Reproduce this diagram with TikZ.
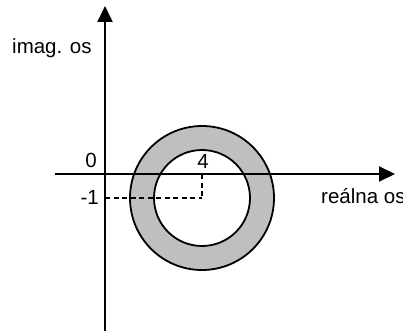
\documentclass[tikz,border=0pt]{standalone}
\usepackage{fontspec}
\setmainfont{Liberation Sans}
\usetikzlibrary{arrows.meta}
\begin{document}
\begin{tikzpicture}[x=1pt,y=-1pt,
  axis/.style={line width=2pt,-{Triangle[length=16pt,width=15pt]}},
  ring/.style={line width=1.8pt},
  guide/.style={line width=1.5pt,dash pattern=on 5pt off 3.5pt},
  lbl/.style={inner sep=0pt,font=\fontsize{20.5}{24}\selectfont}]
\useasboundingbox (0,0) rectangle (403,331);
\coordinate (c) at (202,198);
\coordinate (o) at (105,174);
% ring
\fill[gray!50!white,even odd rule] (c) circle[radius=72] (c) circle[radius=48];
\draw[ring] (c) circle[radius=72];
\draw[ring] (c) circle[radius=48];
% axes
\coordinate (xs) at (55,174);
\coordinate (xe) at (395,174);
\coordinate (ys) at (105,331);
\coordinate (ye) at (105,6);
\draw[axis] (xs) -- (xe);
\draw[axis] (ys) -- (ye);
% guides
\coordinate (ym) at (105,198);
\coordinate (xm) at (202,174);
\draw[guide] (ym) -- (c);
\draw[guide] (xm) -- (c);
% labels
\node[lbl,anchor=base west] (imag) at (12,54) {imag. os};
\node[lbl,anchor=base] (zero) at (91,167) {0};
\node[lbl,anchor=base] (four) at (203,168) {4};
\node[lbl,anchor=base east] (mone) at (99,204) {-1};
\node[lbl,anchor=base west] (real) at (321,203) {reálna os};
\end{tikzpicture}
\end{document}
